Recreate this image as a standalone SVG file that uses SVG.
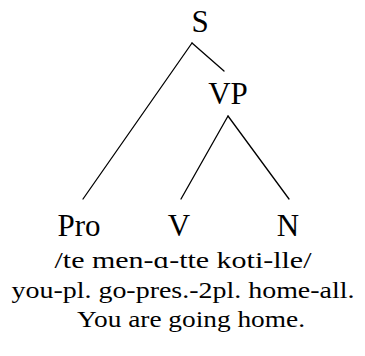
<svg xmlns="http://www.w3.org/2000/svg" width="365" height="356" viewBox="0 0 365 356">
<style>
text{font-family:Liberation Serif,DejaVu Serif,serif}
.lab{font-size:31px;fill:#000;text-anchor:middle}
.txt{font-size:24px;fill:#000;text-anchor:middle}
.edge{stroke:#000;stroke-width:1.3;fill:none;stroke-linecap:round}
</style>
<rect width="365" height="356" fill="#fff"/>
<g id="connectors">
<line class="edge" x1="192" y1="43" x2="224" y2="71"/>
<line class="edge" x1="192" y1="43" x2="83" y2="199"/>
<line class="edge" x1="228" y1="116" x2="181" y2="199"/>
<line class="edge" x1="228" y1="116" x2="289" y2="199"/>
</g>
<g id="node-S"><text class="lab" x="200" y="32" font-family="Liberation Serif, serif">S</text></g>
<g id="node-VP"><text class="lab" x="228" y="104" font-family="Liberation Serif, serif">VP</text></g>
<g id="node-Pro"><text class="lab" x="79" y="236" font-family="Liberation Serif, serif">Pro</text></g>
<g id="node-V"><text class="lab" x="179" y="236" font-family="Liberation Serif, serif">V</text></g>
<g id="node-N"><text class="lab" x="288" y="236" font-family="Liberation Serif, serif">N</text></g>
<g id="gloss" font-family="Liberation Serif, serif">
<text class="txt" x="183" y="268" textLength="257" lengthAdjust="spacingAndGlyphs">/te men-ɑ-tte koti-lle/</text>
<text class="txt" x="183" y="298" textLength="343" lengthAdjust="spacingAndGlyphs">you-pl. go-pres.-2pl. home-all.</text>
<text class="txt" x="191" y="327" textLength="228" lengthAdjust="spacingAndGlyphs">You are going home.</text>
</g>
</svg>
